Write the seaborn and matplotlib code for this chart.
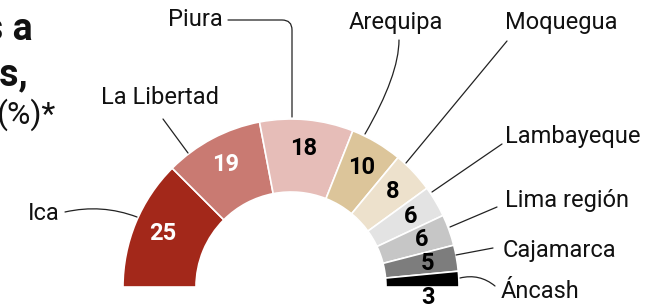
import numpy as np
import matplotlib
matplotlib.use("Agg")
import matplotlib.pyplot as plt
import seaborn as sns

# ---- data ----
regions = ["Ica", "La Libertad", "Piura", "Arequipa", "Moquegua",
           "Lambayeque", "Lima región", "Cajamarca", "Áncash"]
shares = [25, 19, 18, 10, 8, 6, 6, 5, 3]
colors = ["#A3281A", "#C97A72", "#E6BDB8", "#DCC59A", "#EDE1CC",
          "#E3E3E3", "#C6C6C6", "#7D7D7D", "#000000"]
value_colors = ["white", "white", "black", "black", "black",
                "black", "black", "black", "black"]

sns.set_theme(style="white")
plt.rcParams['font.family'] = ['Roboto', 'DejaVu Sans']

W, H = 652, 307
fig = plt.figure(figsize=(W / 100, H / 100), dpi=100)
ax = fig.add_axes([0, 0, 1, 1])

def py(y):  # pixel-y (down) to axis y (up)
    return H - y

cx, cy = 291, 287
R, r = 168, 95

vals = shares + [sum(shares)]
wedges, _ = ax.pie(vals, colors=colors + ["none"], startangle=180,
                   counterclock=False, center=(cx, py(cy)), radius=R,
                   wedgeprops=dict(width=R - r, edgecolor="white", linewidth=1.2),
                   frame=True)
wedges[-1].set_visible(False)

# value labels
start = 180.0
for i, v in enumerate(shares):
    span = v / sum(shares) * 180.0
    mid = np.deg2rad(start - span / 2)
    start -= span
    rad = 139
    x = cx + rad * np.cos(mid)
    y = py(cy) + rad * np.sin(mid)
    if i == len(shares) - 1:
        x, y = 428, py(297)
    ax.text(x, y, str(v), ha="center", va="center", fontsize=17,
            fontweight="bold", color=value_colors[i])

# region labels with leader lines: (text x, text y, ha, line start, line end, connectionstyle)
lab = {
    "Ica": (60, 213, "right", (65, 212), (137, 217), "arc3,rad=-0.15"),
    "La Libertad": (160, 97, "center", (163, 119), (188, 153), "arc3,rad=0"),
    "Piura": (195, 20, "center", (228, 20), (292, 117), "angle,angleA=0,angleB=90,rad=10"),
    "Arequipa": (396, 22, "center", (399, 40), (365, 134), "angle3,angleA=-90,angleB=60"),
    "Moquegua": (561, 22, "center", (507, 41), (406, 163), "arc3,rad=0"),
    "Lambayeque": (505, 137, "left", (502, 144), (432, 192), "arc3,rad=0"),
    "Lima región": (505, 200, "left", (497, 207), (450, 227), "arc3,rad=0"),
    "Cajamarca": (503, 250, "left", (493, 248), (456, 255), "arc3,rad=0"),
    "Áncash": (501, 291, "left", (495, 286), (460, 278), "arc3,rad=0.25"),
}
for name in regions:
    tx, ty, ha, s, e, cs = lab[name]
    ax.text(tx, py(ty), name, ha=ha, va="center", fontsize=17, color="#111111")
    ax.annotate("", xy=(e[0], py(e[1])), xytext=(s[0], py(s[1])),
                arrowprops=dict(arrowstyle="-", color="#222222", lw=0.9,
                                connectionstyle=cs, shrinkA=0, shrinkB=0))

# clipped title fragments
ax.text(33, py(40), "s a", ha="right", va="baseline", fontsize=27,
        fontweight="bold", color="#111111")
ax.text(28, py(85), "os,", ha="right", va="baseline", fontsize=27,
        fontweight="bold", color="#111111")
ax.text(56, py(124), "(%)*", ha="right", va="baseline", fontsize=23,
        color="#111111")

ax.set_xlim(0, W)
ax.set_ylim(0, H)
ax.set_aspect("auto")
ax.axis("off")
fig.savefig("out.png", dpi=100, facecolor="white")
